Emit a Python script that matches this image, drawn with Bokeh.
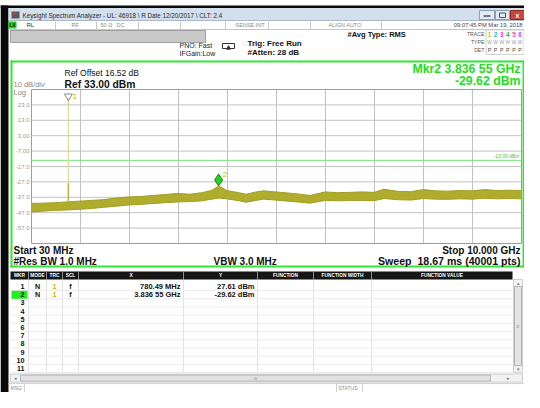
import numpy as np
from bokeh.plotting import figure
from bokeh.models import Range1d
from bokeh.embed import file_html
from bokeh.resources import INLINE
from bokeh.core.properties import value

# ---------------- data ----------------
start_ghz = 0.03
stop_ghz = 10.0
ref_level_dbm = 33.00
db_per_div = 10.0
n_vdiv = 10
n_hdiv = 10

freq_ghz = [0.03, 0.25, 0.5, 0.75, 1.0, 1.25, 1.5, 1.75, 2.0, 2.25, 2.5, 2.75,
            3.0, 3.25, 3.5, 3.7, 3.84, 4.0, 4.25, 4.4, 4.6, 4.75, 5.0, 5.25,
            5.5, 5.7, 6.0, 6.25, 6.5, 6.75, 7.0, 7.2, 7.5, 7.75, 8.0, 8.25,
            8.5, 8.75, 9.0, 9.25, 9.5, 9.75, 10.0]
trace_upper_dbm = [-41.0, -40.8, -40.5, -40.0, -39.5, -39.0, -38.5, -37.5, -36.8, -36.5, -35.8, -35.2,
                   -34.5, -35.0, -34.0, -32.5, -29.6, -32.6, -34.0, -35.0, -33.5, -32.8, -33.5, -34.2,
                   -35.0, -35.8, -33.5, -34.0, -33.8, -33.5, -33.8, -31.8, -33.2, -33.4, -32.0, -32.8,
                   -33.0, -32.6, -32.8, -32.0, -32.6, -32.4, -32.6]
trace_lower_dbm = [-46.5, -46.0, -45.5, -45.2, -44.8, -44.3, -43.5, -42.8, -42.0, -41.6, -41.0, -40.5,
                   -40.0, -39.8, -39.3, -38.2, -37.5, -38.0, -39.2, -40.2, -39.0, -38.2, -38.8, -39.5,
                   -40.2, -40.8, -39.0, -39.3, -39.0, -39.0, -39.2, -37.8, -38.6, -38.8, -37.8, -38.2,
                   -38.3, -38.0, -38.2, -37.6, -38.0, -37.8, -38.0]

ytick_dbm = [23, 13, 3, -7, -17, -27, -37, -47, -57]
ytick_labels = ["23.0", "13.0", "3.00", "-7.00", "-17.0", "-27.0", "-37.0", "-47.0", "-57.0"]

display_line_dbm = -13.0
display_line_label = "-13.00 dBm"

mkr_numbers = [1, 2]
mkr_modes = ["N", "N"]
mkr_traces = [1, 1]
mkr_scales = ["f", "f"]
mkr_freq_ghz = [0.78049, 3.83655]
mkr_level_dbm = [27.61, -29.62]
mkr_x_text = ["780.49 MHz", "3.836 55 GHz"]
mkr_y_text = ["27.61 dBm", "-29.62 dBm"]
table_rows = list(range(1, 12))

trace_numbers = ["1", "2", "3", "4", "5", "6"]
trace_colors = ["#cfc000", "#10b8e0", "#f030f0", "#28b828", "#f050b0", "#b050f0"]

# ---------------- canvas (coordinates = screenshot pixels) ----------------
FONT = value("Liberation Sans")
GREEN = "#33e633"
OLIVE = "#b0ac2e"
W, H = 524, 392
RX = 520  # right anchor for right-aligned panel texts

p = figure(width=W, height=H, x_range=Range1d(0, W), y_range=Range1d(H, 0),
           output_backend="svg", toolbar_location=None, min_border=0,
           x_axis_location=None, y_axis_location=None)
p.grid.visible = False
p.outline_line_color = None
p.background_fill_color = "white"
p.border_fill_color = "white"


def T(x, y, s, size, color="#111111", bold=False, align="left", baseline="middle"):
    p.text(x=[x], y=[y], text=[s], text_font=FONT, text_font_size=f"{size}px",
           text_color=color, text_align=align, text_baseline=baseline,
           text_font_style="bold" if bold else "normal")


def Q(l, t, r, b, fill, line=None, lw=1):
    p.quad(left=[l], right=[r], top=[t], bottom=[b], fill_color=fill, line_color=line, line_width=lw)


def L(x0, y0, x1, y1, color, lw=1):
    p.segment(x0=[x0], y0=[y0], x1=[x1], y1=[y1], line_color=color, line_width=lw)


# ---- window frame ----
Q(0, 5, W, 7.5, "#0a0a0a", None)
Q(0, 5, 8, H, "#0a0a0a", None)

# ---- title bar ----
Q(8, 7.5, W, 20, "#d3dfec", None)
L(8, 20, W, 20, "#aab8c8")
Q(11, 11, 19, 18, "#5a5a5a", None)
Q(12, 12, 15, 14, "#c04a3a", None)
T(22, 14.5, "Keysight Spectrum Analyzer - UL: 46918 \\ R Date 12/20/2017 \\ CLT: 2.4", 6.3, "#2a2a2a")
Q(479, 10, 494, 19, "#e4eaf2", "#8d9db2")
L(483, 15.5, 490, 15.5, "#44546a", 1.5)
Q(495, 10, 509, 19, "#e4eaf2", "#8d9db2")
Q(499, 12.5, 505, 17, None, "#44546a")
Q(510, 10, 524, 19, "#c9473c", "#8e2a22")
T(517, 14.8, "x", 7, "white", bold=True, align="center")

# ---- status row ----
L(8, 29, W, 29, "#c4c4c4")
Q(8, 21, 16, 28, "#22cc22", None)
T(12, 24.8, "LX", 5, "#0a3a0a", bold=True, align="center")
T(26, 24.8, "RL", 6, "#333333")
for sx in [55, 96, 138, 180, 225, 268, 310, 381]:
    L(sx, 21, sx, 28.5, "#c8c8c8")
T(71, 24.8, "RF", 5.5, "#8a8a8a")
T(100, 24.8, "50 \u03a9", 5.5, "#8a8a8a")
T(116, 24.8, "DC", 5.5, "#8a8a8a")
T(235, 24.8, "SENSE:INT", 5.5, "#8a8a8a")
T(328, 24.8, "ALIGN AUTO", 5.5, "#8a8a8a")
T(522, 24.8, "09:07:45 PM Mar 19, 2018", 5.8, "#444444", align="right")

# ---- settings area ----
Q(10, 30, 205, 42, "#c9c9c9", "#a0a0a0")
T(179, 45, "PNO: Fast", 7, "#222222")
T(179, 53, "IFGain:Low", 7, "#222222")
Q(222, 43, 234, 48, None, "#333333")
p.scatter(x=[228], y=[47.5], marker="triangle", size=4, fill_color="#333333", line_color="#333333")
T(247, 43, "Trig: Free Run", 8, "#111111", bold=True)
T(247, 52, "#Atten: 28 dB", 8, "#111111", bold=True)
T(347, 34, "#Avg Type: RMS", 7.5, "#111111", bold=True)
T(484, 33, "TRACE", 5.2, "#555555", align="right")
T(484, 41, "TYPE", 5.2, "#555555", align="right")
T(484, 49, "DET", 5.2, "#555555", align="right")
Q(485.5, 29.5, 523.5, 54, None, "#d0d0d0")
for i, (tn, tc) in enumerate(zip(trace_numbers, trace_colors)):
    T(489 + i * 6.1, 33.5, tn, 6.3, tc, bold=True, align="center")
    T(489 + i * 6.1, 41.5, "W", 4.8, "#9a9a9a", align="center")
    T(489 + i * 6.1, 49.5, "P", 5.3, "#444444", align="center")

# ---- green display panel ----
Q(10, 60, W, 62, GREEN, None)
Q(10, 265, W, 267, GREEN, None)
Q(10, 60, 12, 267, GREEN, None)
Q(522, 60, W, 267, GREEN, None)

T(64, 72, "Ref Offset 16.52 dB", 8.5, "#111111")
T(64, 83.5, "Ref 33.00 dBm", 10.3, "#111111", bold=True)
T(13, 84, "10 dB/div", 7.5, "#8a8a8a")
T(13, 91.5, "Log", 7.5, "#8a8a8a")
T(RX, 68, "Mkr2 3.836 55 GHz", 12.3, "#22dd22", bold=True, align="right")
T(RX, 80.5, "-29.62 dBm", 12.3, "#22dd22", bold=True, align="right")

T(13, 249.5, "Start 30 MHz", 10, "#111111", bold=True)
T(RX, 249.5, "Stop 10.000 GHz", 10, "#111111", bold=True, align="right")
T(13, 260.5, "#Res BW 1.0 MHz", 10, "#111111", bold=True)
T(213, 260.5, "VBW 3.0 MHz", 10, "#111111", bold=True)
T(RX, 260.5, "Sweep\u00a0\u00a018.67 ms (40001 pts)", 10.6, "#111111", bold=True, align="right")

# ---- spectrum graticule through a sub-coordinate system ----
bottom_dbm = ref_level_dbm - n_vdiv * db_per_div
sub = p.subplot(x_source=Range1d(start_ghz, stop_ghz), y_source=Range1d(bottom_dbm, ref_level_dbm),
                x_target=Range1d(31, 521), y_target=Range1d(243, 89))
db_per_px = (n_vdiv * db_per_div) / (243 - 89)

x_div = [start_ghz + k * (stop_ghz - start_ghz) / n_hdiv for k in range(n_hdiv + 1)]
y_div = [ref_level_dbm - k * db_per_div for k in range(n_vdiv + 1)]
sub.segment(x0=x_div[1:-1], y0=[bottom_dbm] * (n_hdiv - 1), x1=x_div[1:-1], y1=[ref_level_dbm] * (n_hdiv - 1),
            line_color="#c2c2c2", line_width=1)
sub.segment(x0=[start_ghz] * (n_vdiv - 1), y0=y_div[1:-1], x1=[stop_ghz] * (n_vdiv - 1), y1=y_div[1:-1],
            line_color="#c2c2c2", line_width=1)
sub.quad(left=[start_ghz], right=[stop_ghz], top=[ref_level_dbm], bottom=[bottom_dbm],
         fill_color=None, line_color="#9c9c9c", line_width=1)

sub.text(x=[start_ghz] * len(ytick_dbm), y=ytick_dbm, text=ytick_labels, x_offset=-2,
         text_font=FONT, text_font_size="6px", text_color="#9a9a9a",
         text_align="right", text_baseline="middle")

# display line
sub.segment(x0=[start_ghz], y0=[display_line_dbm], x1=[stop_ghz], y1=[display_line_dbm],
            line_color="#78e478", line_width=1)
sub.text(x=[stop_ghz], y=[display_line_dbm], text=[display_line_label], x_offset=-2, y_offset=-1.5,
         text_font=FONT, text_font_size="5px", text_color="#33cc33",
         text_align="right", text_baseline="bottom")

# trace (noise band)
sub.varea(x=freq_ghz, y1=trace_lower_dbm, y2=trace_upper_dbm, fill_color=OLIVE)
sub.line(x=freq_ghz, y=trace_upper_dbm, line_color="#a29e20", line_width=1)
sub.line(x=freq_ghz, y=trace_lower_dbm, line_color="#a29e20", line_width=1)

# marker 1 spike
base1 = float(np.interp(mkr_freq_ghz[0], freq_ghz, trace_upper_dbm))
sub.segment(x0=[mkr_freq_ghz[0]], y0=[base1], x1=[mkr_freq_ghz[0]], y1=[mkr_level_dbm[0]],
            line_color="#dedc9c", line_width=1.2)
sub.segment(x0=[mkr_freq_ghz[0]], y0=[base1], x1=[mkr_freq_ghz[0]], y1=[base1 + 12],
            line_color="#b8b545", line_width=1.5)
sub.scatter(x=[mkr_freq_ghz[0]], y=[mkr_level_dbm[0] + 1.5 * db_per_px], marker="inverted_triangle",
            size=8, fill_color=None, line_color="#8c8c8c", line_width=1)
sub.text(x=[mkr_freq_ghz[0]], y=[mkr_level_dbm[0]], text=[str(mkr_numbers[0])], x_offset=4, y_offset=-1,
         text_font=FONT, text_font_size="8px", text_color="#c8b400", text_align="left",
         text_baseline="middle")

# marker 2 diamond (bottom tip on the marker point)
sub.scatter(x=[mkr_freq_ghz[1]], y=[mkr_level_dbm[1] + 6 * db_per_px], marker="diamond",
            size=12, fill_color="#2ccc2c", line_color="#168816", line_width=1)
sub.text(x=[mkr_freq_ghz[1]], y=[mkr_level_dbm[1] + 11 * db_per_px], text=[str(mkr_numbers[1])],
         x_offset=4, text_font=FONT, text_font_size="8px", text_color="#c8b400",
         text_align="left", text_baseline="middle")

# ---- marker table ----
col_edges = [10, 28, 46, 62, 78, 183, 257, 313, 371, 512]
headers = ["MKR", "MODE", "TRC", "SCL", "X", "Y", "FUNCTION", "FUNCTION WIDTH", "FUNCTION VALUE"]
row_y0 = 286.0
row_h = 8.2
table_bottom = row_y0 + (len(table_rows) - 0.5) * row_h

Q(10, 271, 512, 279, "#151515", None)
for i, h in enumerate(headers):
    T((col_edges[i] + col_edges[i + 1]) / 2, 275.2, h, 4.8, "white", bold=True, align="center")
for cx in col_edges[1:-1]:
    L(cx, 271, cx, 279, "#8a8a8a")
    L(cx, 279, cx, table_bottom, "#e2e2e2")
for r in table_rows:
    yb = row_y0 + (r - 0.5) * row_h
    L(10, yb, 512, yb, "#ececec")

ry = [row_y0 + (r - 1) * row_h for r in table_rows]
Q(11, ry[1] - 4, 27, ry[1] + 4, "#22ee22", None)
for r, y in zip(table_rows, ry):
    T(24, y, str(r), 7.2, "#111111", bold=True, align="right")
for k in range(len(mkr_numbers)):
    y = ry[mkr_numbers[k] - 1]
    T(37, y, mkr_modes[k], 7.2, "#111111", bold=True, align="center")
    T(54, y, str(mkr_traces[k]), 7.2, "#c8b400", bold=True, align="center")
    T(70, y, mkr_scales[k], 7.2, "#111111", bold=True, align="center")
    T(180, y, mkr_x_text[k], 7.5, "#111111", bold=True, align="right")
    T(254, y, mkr_y_text[k], 7.5, "#111111", bold=True, align="right")

# vertical scrollbar
Q(513, 279, 522, table_bottom, "#f2f2f2", "#cdcdcd")
Q(514, 286, 521, table_bottom - 7, "#e4e4e4", "#b4b4b4")
T(517.5, 282.5, "\u25b4", 5, "#777777", align="center")
T(517.5, table_bottom - 3.5, "\u25be", 5, "#777777", align="center")
T(517.5, (286 + table_bottom - 7) / 2, "\u2261", 5, "#888888", align="center")

# horizontal scrollbar
hs_t, hs_b = table_bottom + 1.5, table_bottom + 9.5
Q(10, hs_t, 522, hs_b, "#f2f2f2", "#cdcdcd")
Q(20, hs_t + 1, 490, hs_b - 1, "#e2e2e2", "#b6b6b6")
T(15, (hs_t + hs_b) / 2, "\u25c2", 5, "#777777", align="center")
T(508, (hs_t + hs_b) / 2, "\u25b8", 5, "#777777", align="center")
T(255, (hs_t + hs_b) / 2, "III", 4, "#888888", align="center")

# message bar
mb = hs_b + 1.5
L(8, mb, W, mb, "#d0d0d0")
T(10, (mb + H) / 2, "MSG", 5, "#8a8a8a")
L(24, mb, 24, H, "#d0d0d0")
Q(336, mb, 362, H, None, "#d0d0d0")
T(338, (mb + H) / 2, "STATUS", 5, "#8a8a8a")

open("out.html", "w").write(file_html(p, INLINE))
